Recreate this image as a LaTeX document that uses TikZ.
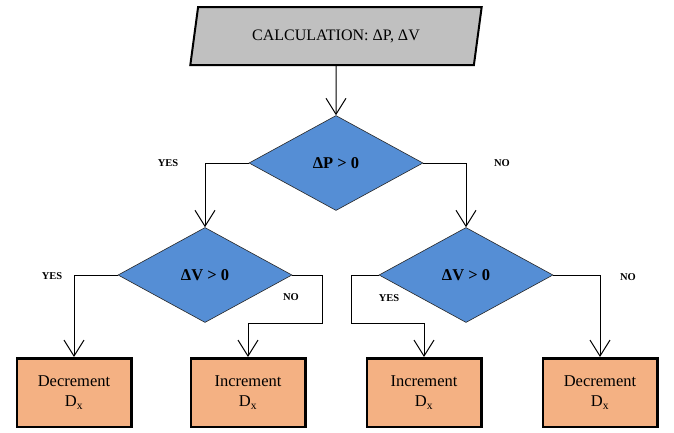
\documentclass[tikz,border=0pt]{standalone}
\usepackage{fontspec}
\setmainfont{Liberation Serif}
\usepackage{tikz}
\usetikzlibrary{arrows.meta, positioning, shapes.geometric}
\definecolor{decblue}{RGB}{85,142,213}
\definecolor{boxorange}{RGB}{244,177,131}
\definecolor{iogray}{RGB}{192,192,192}

\begin{document}
\begin{tikzpicture}[x=1pt, y=-1pt,
  decision/.style={draw=black!85, line width=0.6pt, diamond, fill=decblue, minimum width=174pt, minimum height=95pt, inner sep=0pt, font=\fontsize{16.5}{19}\selectfont\bfseries},
  process/.style={draw, line width=2.5pt, rectangle, fill=boxorange, minimum width=114.5pt, minimum height=68.5pt, align=center, text depth=2pt, font=\fontsize{16.5}{20}\selectfont},
  io/.style={draw, line width=2pt, trapezium, trapezium left angle=76, trapezium right angle=104, trapezium stretches=true, fill=iogray, minimum width=292pt, minimum height=58pt, font=\fontsize{16}{19}\selectfont},
  flow/.style={-{Straight Barb[length=16pt,width=20pt]}, line width=1pt},
  lbl/.style={font=\fontsize{10.5}{12}\selectfont\bfseries}]

  \useasboundingbox (0,0) rectangle (674,432);

  % ==== Input ====
  \node[io] (calc) at (336,36) {CALCULATION: ΔP, ΔV};

  % ==== Decisions ====
  \node[decision] (dp) at (336,163) {ΔP > 0};
  \node[decision] (dv1) at (205,275) {ΔV > 0};
  \node[decision] (dv2) at (466,275) {ΔV > 0};

  % ==== Outputs ====
  \node[process] (b1) at (74,392.5) {Decrement\\D\textsubscript{x}};
  \node[process] (b2) at (248,392.5) {Increment\\D\textsubscript{x}};
  \node[process] (b3) at (424,392.5) {Increment\\D\textsubscript{x}};
  \node[process] (b4) at (600,392.5) {Decrement\\D\textsubscript{x}};

  % Bends
  \coordinate (k1) at (322,323);
  \coordinate (k2) at (351,323);

  % ==== Connectors ====
  \draw[flow] (calc.south) -- (dp.north);
  \draw[flow] (dp.west) -| (dv1.north);
  \draw[flow] (dp.east) -| (dv2.north);
  \draw[flow] (dv1.west) -| (b1.north);
  \draw[flow] (dv1.east) -| (k1) -| (b2.north);
  \draw[flow] (dv2.west) -| (k2) -| (b3.north);
  \draw[flow] (dv2.east) -| (b4.north);

  % Labels
  \node[lbl] (yes1) at (168,163) {YES};
  \node[lbl] (no1) at (502,163) {NO};
  \node[lbl] (yes2) at (52,276) {YES};
  \node[lbl] (no2) at (291,297) {NO};
  \node[lbl] (yes3) at (389,298) {YES};
  \node[lbl] (no3) at (628,277) {NO};
\end{tikzpicture}
\end{document}
